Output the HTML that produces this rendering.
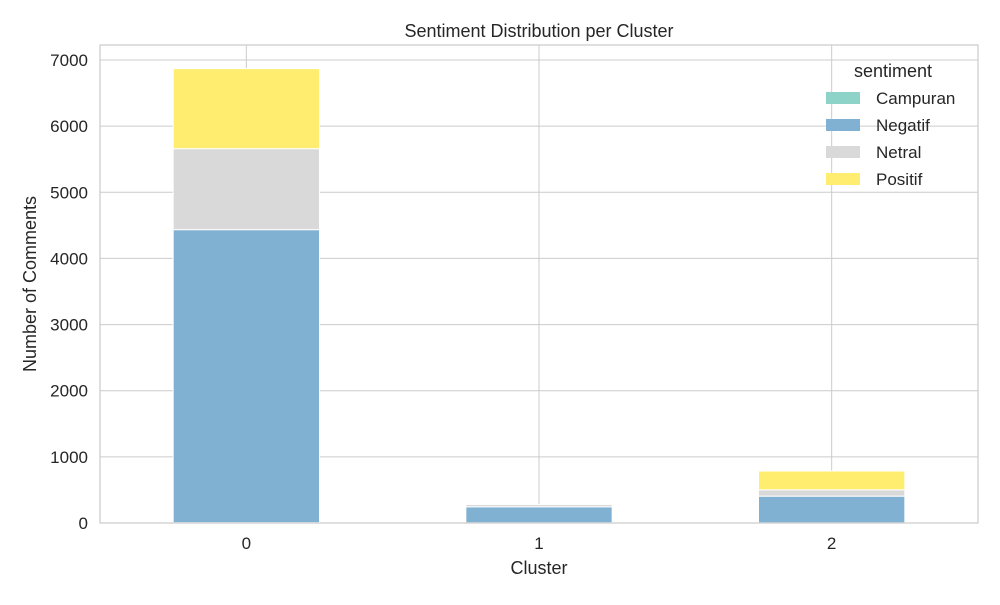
<!DOCTYPE html>
<html><head><meta charset="utf-8"><style>
body{margin:0;background:#fff;font-family:"Liberation Sans","DejaVu Sans",sans-serif}
</style></head><body>
<svg id="chart" width="1000" height="600" xmlns="http://www.w3.org/2000/svg" font-family="Liberation Sans, DejaVu Sans, sans-serif"></svg>
<script>
const categories = ["0","1","2"];
const seriesNames = ["Campuran","Negatif","Netral","Positif"];
const campuran = [5, 3, 2];
const negatif = [4430, 242, 404];
const netral = [1225, 35, 96];
const positif = [1210, 0, 284];
const yTicks = [0,1000,2000,3000,4000,5000,6000,7000];
const colors = ["#8dd3c7","#80b1d3","#d9d9d9","#ffed6f"];
const series=[campuran,negatif,netral,positif];
const L=100,R=978,T=45,B=523, yMax=7227;
const svg=document.getElementById('chart');
const NS="http://www.w3.org/2000/svg";
function y(v){return B-(v/yMax)*(B-T);}
function x(i){return L+(i+0.5)*(R-L)/categories.length;}
function mk(tag,attrs,parent){const e=document.createElementNS(NS,tag);for(const k in attrs)e.setAttribute(k,attrs[k]);(parent||svg).appendChild(e);return e;}
yTicks.forEach(t=>{
 const g=mk('line',{x1:L,x2:R,y1:y(t),y2:y(t),stroke:'#cccccc','stroke-width':1});
 
 
 const tx=mk('text',{x:L-12,y:y(t)+6,'text-anchor':'end','font-size':17,fill:'#262626'});
 tx.textContent=t;
 
 
});
categories.forEach((c,i)=>{
 const g=mk('line',{x1:x(i),x2:x(i),y1:T,y2:B,stroke:'#cccccc','stroke-width':1});
 
 
 const tx=mk('text',{x:x(i),y:B+26,'text-anchor':'middle','font-size':17,fill:'#262626'});
 tx.textContent=c;
 
 
});
const bw=(R-L)/categories.length*0.5;
categories.forEach((c,i)=>{
 let acc=0;
 series.forEach((s,k)=>{
  const v=s[i]; if(v<=0){return;}
  const r=mk('rect',{x:x(i)-bw/2,y:y(acc+v),width:bw,height:y(acc)-y(acc+v),fill:colors[k],stroke:'#ffffff','stroke-width':1});
  
  
  acc+=v;
 });
});
const fr=mk('rect',{x:L,y:T,width:R-L,height:B-T,fill:'none',stroke:'#cccccc','stroke-width':1.25});


const tt=mk('text',{x:(L+R)/2,y:37,'text-anchor':'middle','font-size':18,fill:'#262626'});
tt.textContent='Sentiment Distribution per Cluster';


const xt=mk('text',{x:(L+R)/2,y:574,'text-anchor':'middle','font-size':18,fill:'#262626'});
xt.textContent='Cluster';


const yt=mk('text',{x:0,y:0,'text-anchor':'middle','font-size':18,fill:'#262626',transform:'translate(36,'+((T+B)/2)+') rotate(-90)'});
yt.textContent='Number of Comments';


const lt=mk('text',{x:893,y:77,'text-anchor':'middle','font-size':18,fill:'#262626'});
lt.textContent='sentiment';


seriesNames.forEach((n,k)=>{
 const yy=98+k*27;
 const p=mk('rect',{x:826,y:yy-6,width:34,height:12,fill:colors[k]});
 
 
 const tx=mk('text',{x:876,y:yy+6,'font-size':17,fill:'#262626'});
 tx.textContent=n;
 
 
});
</script>
</body></html>
